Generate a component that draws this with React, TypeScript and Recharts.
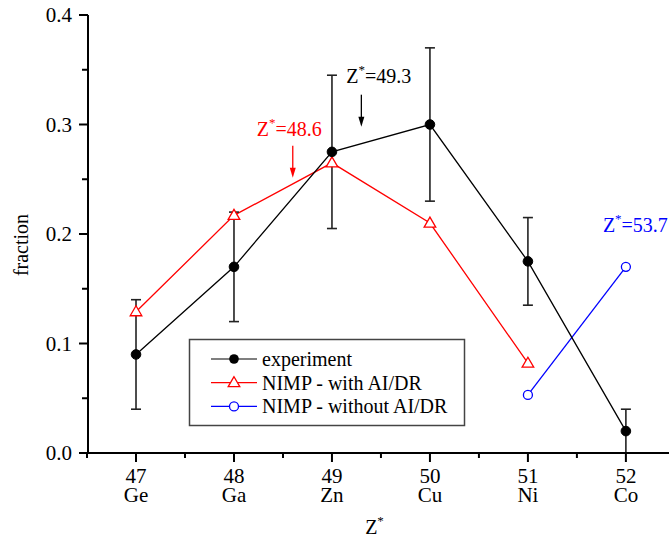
import React from "react";
import {
  LineChart,
  Line,
  XAxis,
  YAxis,
  ErrorBar,
  ReferenceDot,
  Label,
} from "recharts";

const zValues = [47, 48, 49, 50, 51, 52];
const elements = ["Ge", "Ga", "Zn", "Cu", "Ni", "Co"];
const experiment = [0.09, 0.17, 0.275, 0.3, 0.175, 0.02];
const experimentErr = [0.05, 0.05, 0.07, 0.07, 0.04, 0.02];
const nimpWithAIDR = [0.129, 0.217, 0.265, 0.21, 0.082, null];
const nimpWithoutAIDR = [null, null, null, null, 0.053, 0.17];

const xTicks = [46.5, 47, 47.5, 48, 48.5, 49, 49.5, 50, 50.5, 51, 51.5, 52];
const yTicks = [0, 0.05, 0.1, 0.15, 0.2, 0.25, 0.3, 0.35, 0.4];

// annotations: Z* value, arrow tip position, colour
const annotations = [
  { label: "49.3", x: 49.3, y: 0.298, color: "#000000", arrow: true, dx: -15, dy: -44 },
  { label: "48.6", x: 48.6, y: 0.2514, color: "#ff0000", arrow: true, dx: -36, dy: -42 },
  { label: "53.7", x: 52, y: 0.2, color: "#0000ff", arrow: false, dx: -23, dy: -2 },
];

const FONT = "Liberation Serif, DejaVu Serif, serif";
const txt = { fontFamily: FONT };

const chartData = zValues.map((z, i) => ({
  z,
  exp: experiment[i],
  expErr: experimentErr[i],
  withAI: nimpWithAIDR[i],
  withoutAI: nimpWithoutAIDR[i],
}));

const XTick = (props: any) => {
  const { x, y, payload } = props;
  const v = payload.value;
  const major = Number.isInteger(v);
  const idx = zValues.indexOf(v);
  return (
    <g>
      <line x1={x} x2={x} y1={y} y2={y + (major ? 9 : 5)} stroke="#000" strokeWidth={2} />
      {major && (
        <text x={x} y={y + 30} textAnchor="middle" fontSize={21} style={txt} fill="#000">
          {v}
        </text>
      )}
      {major && (
        <text x={x} y={y + 49} textAnchor="middle" fontSize={21} style={txt} fill="#000">
          {elements[idx]}
        </text>
      )}
    </g>
  );
};

const YTick = (props: any) => {
  const { x, y, payload } = props;
  const v = payload.value;
  const major = Math.abs(v * 10 - Math.round(v * 10)) < 1e-6;
  return (
    <g>
      <line x1={x - (major ? 9 : 6)} x2={x} y1={y} y2={y} stroke="#000" strokeWidth={2} />
      {major && (
        <text x={x - 16} y={y} dy="0.34em" textAnchor="end" fontSize={21} style={txt} fill="#000">
          {v.toFixed(1)}
        </text>
      )}
    </g>
  );
};

const ExpDot = (props: any) => {
  const { cx, cy, index } = props;
  if (cx == null || cy == null) return <g key={`e${index}`} />;
  return <circle key={`e${index}`} cx={cx} cy={cy} r={4.8} fill="#000" stroke="#000" />;
};

const TriangleDot = (props: any) => {
  const { cx, cy, index, value } = props;
  if (cx == null || cy == null || value == null) return <g key={`t${index}`} />;
  return (
    <polygon
      key={`t${index}`}
      points={`${cx},${cy - 6} ${cx - 5.8},${cy + 4} ${cx + 5.8},${cy + 4}`}
      fill="#fff"
      stroke="#ff0000"
      strokeWidth={1.3}
    />
  );
};

const OpenDot = (props: any) => {
  const { cx, cy, index, value } = props;
  if (cx == null || cy == null || value == null) return <g key={`o${index}`} />;
  return <circle key={`o${index}`} cx={cx} cy={cy} r={4.5} fill="#fff" stroke="#0000ff" strokeWidth={1.3} />;
};

const ZStar = ({ x, y, color, value, anchor }: any) => (
  <text x={x} y={y} fill={color} fontSize={20} style={txt} textAnchor={anchor || "start"}>
    <tspan>Z</tspan>
    <tspan dy={-9} fontSize={13}>*</tspan>
    <tspan dy={9}>{value}</tspan>
  </text>
);

const makeAnnotation = (a: any) => (props: any) => {
  const { cx, cy } = props;
  return (
    <g>
      {a.arrow && (
        <g>
          <line x1={cx} x2={cx} y1={cy - 32} y2={cy - 8} stroke={a.color} strokeWidth={1.3} />
          <polygon points={`${cx},${cy} ${cx - 3},${cy - 10} ${cx + 3},${cy - 10}`} fill={a.color} />
        </g>
      )}
      <ZStar x={cx + a.dx} y={cy + a.dy} color={a.color} value={"=" + a.label} />
    </g>
  );
};

const legendItems = [
  { label: "experiment", color: "#000", kind: "filled" },
  { label: "NIMP - with AI/DR", color: "#ff0000", kind: "triangle" },
  { label: "NIMP - without AI/DR", color: "#0000ff", kind: "open" },
];

const LegendBox = () => (
  <svg width={278} height={89} style={{ position: "absolute", left: 188, top: 338 }}>
    <rect x={1.5} y={1.5} width={275} height={86} fill="#fff" stroke="#444" strokeWidth={1.5} />
    {legendItems.map((item, i) => {
      const cy = 21 + i * 23.7;
      const cx = 46;
      return (
        <g key={item.label}>
          <line x1={23} x2={69} y1={cy} y2={cy} stroke={item.color} strokeWidth={1.2} />
          {item.kind === "filled" && <circle cx={cx} cy={cy} r={4.8} fill="#000" />}
          {item.kind === "triangle" && (
            <polygon
              points={`${cx},${cy - 6} ${cx - 5.8},${cy + 4} ${cx + 5.8},${cy + 4}`}
              fill="#fff"
              stroke={item.color}
              strokeWidth={1.3}
            />
          )}
          {item.kind === "open" && (
            <circle cx={cx} cy={cy} r={4.5} fill="#fff" stroke={item.color} strokeWidth={1.3} />
          )}
          <text x={74} y={cy} dy="0.34em" fontSize={20} style={txt} fill="#000">
            {item.label}
          </text>
        </g>
      );
    })}
  </svg>
);

export default function App() {
  return (
    <div style={{ position: "relative", width: 669, height: 538, overflow: "hidden", background: "#fff" }}>
      <style>{`body{margin:0;overflow:hidden;}`}</style>
      <LineChart
        width={669}
        height={538}
        data={chartData}
        margin={{ top: 15, right: 0, bottom: 0, left: 0 }}
      >
        <XAxis
          dataKey="z"
          type="number"
          domain={[46.51, 52.44]}
          ticks={xTicks}
          interval={0}
          tick={<XTick />}
          tickLine={false}
          tickSize={0}
          tickMargin={0}
          axisLine={{ stroke: "#000", strokeWidth: 2 }}
          height={85}
        >
          <Label
            content={(p: any) => {
              const vb = p.viewBox;
              return (
                <ZStar x={vb.x + vb.width / 2 - 4} y={vb.y + vb.height - 4} color="#000" value="" anchor="middle" />
              );
            }}
          />
        </XAxis>
        <YAxis
          type="number"
          domain={[0, 0.4]}
          ticks={yTicks}
          interval={0}
          tick={<YTick />}
          tickLine={false}
          tickSize={0}
          tickMargin={0}
          axisLine={{ stroke: "#000", strokeWidth: 2 }}
          width={88}
        >
          <Label
            content={(p: any) => {
              const vb = p.viewBox;
              const cy = vb.y + vb.height / 2 + 11;
              return (
                <text
                  x={22}
                  y={cy}
                  transform={`rotate(-90, 22, ${cy})`}
                  textAnchor="middle"
                  dy="0.3em"
                  fontSize={20}
                  style={txt}
                  fill="#000"
                >
                  fraction
                </text>
              );
            }}
          />
        </YAxis>
        <Line
          dataKey="withAI"
          stroke="#ff0000"
          strokeWidth={1.3}
          dot={TriangleDot}
          activeDot={false}
          isAnimationActive={false}
        />
        <Line
          dataKey="withoutAI"
          stroke="#0000ff"
          strokeWidth={1.3}
          dot={OpenDot}
          activeDot={false}
          isAnimationActive={false}
        />
        <Line
          dataKey="exp"
          stroke="#000"
          strokeWidth={1.3}
          dot={ExpDot}
          activeDot={false}
          isAnimationActive={false}
        >
          <ErrorBar dataKey="expErr" width={5} stroke="#222" strokeWidth={1.6} direction="y" isAnimationActive={false} />
        </Line>
        {annotations.map((a) => (
          <ReferenceDot key={a.label} x={a.x} y={a.y} r={0} shape={makeAnnotation(a)} ifOverflow="visible" />
        ))}
      </LineChart>
      <LegendBox />
    </div>
  );
}
